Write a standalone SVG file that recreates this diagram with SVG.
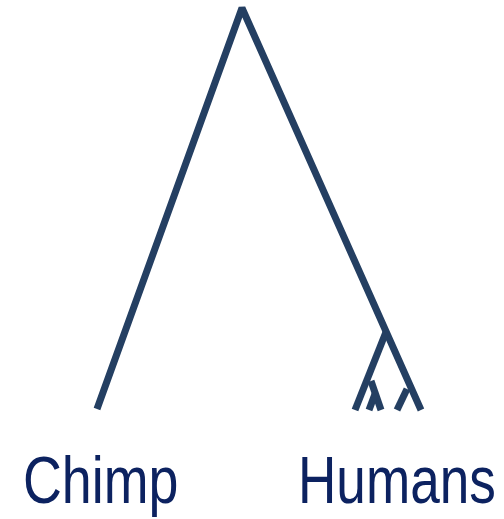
<svg xmlns="http://www.w3.org/2000/svg" width="504" height="519" viewBox="0 0 504 519">
<style>
.br{stroke:#243f62;stroke-width:7;fill:none;stroke-linejoin:bevel}
.lbl{font-family:"Liberation Sans Narrow","Liberation Sans",Arial,sans-serif;font-size:66px;fill:#0c2260}
</style>
<rect width="504" height="519" fill="#ffffff"/>
<g id="connectors">
<polyline class="br" points="97,409 242,8 421,410"/>
<polyline class="br" points="386,332 355,410"/>
<polyline class="br" points="371,381 381,410"/>
<polyline class="br" points="375,394 369,410"/>
<polyline class="br" points="407,389 397,410"/>
</g>
<g id="chimp"><text class="lbl" transform="translate(23,503) scale(0.815,1)" x="0" y="0">Chimp</text></g>
<g id="humans"><text class="lbl" transform="translate(298,503) scale(0.805,1)" x="0" y="0">Humans</text></g>
</svg>
